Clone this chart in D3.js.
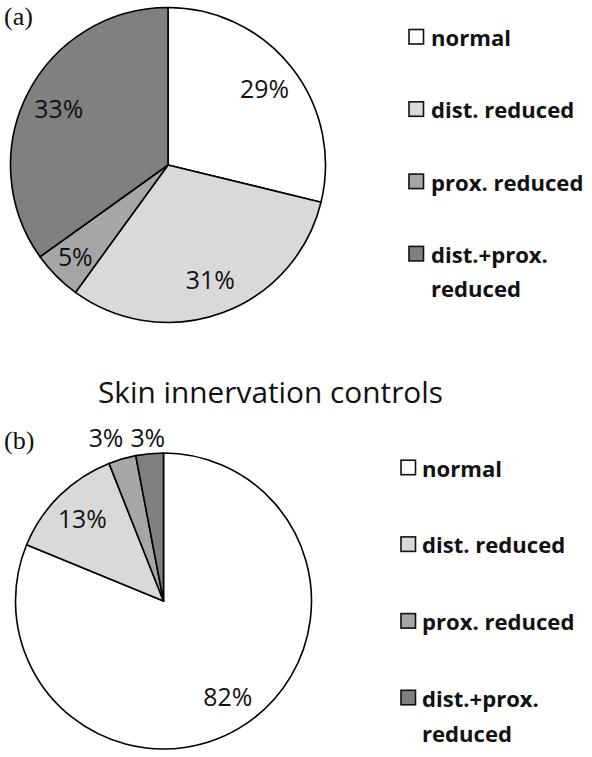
<!DOCTYPE html>
<html>
<head>
<meta charset="utf-8">
<script src="https://cdn.jsdelivr.net/npm/d3@7"></script>
<style>
  html, body { margin: 0; padding: 0; background: #ffffff; }
  svg { display: block; }
</style>
</head>
<body>
<svg id="chart" width="592" height="757"></svg>
<script>
// ---------------- data ----------------
const categories = ["normal", "dist. reduced", "prox. reduced", "dist.+prox. reduced"];
const legendLines = [["normal"], ["dist. reduced"], ["prox. reduced"], ["dist.+prox.", "reduced"]];
const sliceColors = ["#ffffff", "#d9d9d9", "#a6a6a6", "#808080"];

// (a) patients
const valuesA = [28.8, 31.2, 5.1, 34.9];
const labelsA = ["29%", "31%", "5%", "33%"];

// (b) controls
const valuesB = [81.2, 12.8, 3.0, 3.0];
const labelsB = ["82%", "13%", "3%", "3%"];

const titleB = "Skin innervation controls";
const panelTags = ["(a)", "(b)"];

// ---------------- helpers ----------------
const svg = d3.select("#chart");
const sansFont = "'Open Sans', 'Noto Sans', 'DejaVu Sans', sans-serif";
const serifFont = "'Liberation Serif', 'DejaVu Serif', serif";

function measure(text, family, weight, size) {
  const t = svg.append("text")
    .attr("font-family", family).attr("font-weight", weight)
    .attr("font-size", size).text(text);
  const w = t.node().getComputedTextLength();
  t.remove();
  return w;
}
function fitSize(text, family, weight, targetWidth) {
  return 100 * targetWidth / measure(text, family, weight, 100);
}

const pctSize = fitSize("29%", sansFont, "normal", 49);
const legSize = fitSize("normal", sansFont, "bold", 80);
const titleSize = fitSize(titleB, sansFont, "normal", 345);
const tagSize = fitSize("(a)", serifFont, "normal", 29);

function drawPie(cfg) {
  const { values, labels, cx, cy, r } = cfg;
  const total = d3.sum(values);
  const pie = d3.pie().sort(null).value(d => d);
  const arcs = pie(values);
  const arc = d3.arc().innerRadius(0).outerRadius(r);
  const g = svg.append("g").attr("transform", `translate(${cx},${cy})`);

  g.selectAll("path.slice")
    .data(arcs)
    .join("path")
    .attr("class", "slice")
    .attr("d", arc)
    .attr("fill", (d, i) => sliceColors[i])
    .attr("stroke", "#000")
    .attr("stroke-width", 1.6)
    .attr("stroke-linejoin", "round");

  // label positions
  const pos = arcs.map((d, i) => {
    const frac = d.value / total;
    let lr, outside = false;
    if (frac < 0.04) { lr = r + 19; outside = true; }
    else if (frac < 0.1) lr = r * 0.83;
    else lr = r * 0.78;
    const c = d3.arc().innerRadius(lr).outerRadius(lr).centroid(d);
    const w = measure(labels[i], sansFont, "normal", pctSize);
    return { x: c[0], y: c[1], w, outside };
  });
  // simple collision avoidance for outside labels (push leftmost away)
  const outs = pos.filter(p => p.outside).sort((a, b) => b.x - a.x);
  for (let k = 1; k < outs.length; k++) {
    const right = outs[k - 1], left = outs[k];
    const minGap = right.w / 2 + left.w / 2 + 7;
    if (Math.abs(right.y - left.y) < pctSize && right.x - left.x < minGap) {
      left.x = right.x - minGap;
      const ym = (left.y + right.y) / 2;
      left.y = ym; right.y = ym;
    }
  }

  g.selectAll("text.pct")
    .data(arcs)
    .join("text")
    .attr("class", "pct")
    .attr("font-family", sansFont)
    .attr("font-size", pctSize)
    .attr("fill", "#111")
    .attr("text-anchor", "middle")
    .attr("x", (d, i) => pos[i].x)
    .attr("y", (d, i) => pos[i].y + 0.36 * pctSize)
    .text((d, i) => labels[i]);
}

function drawLegend(cfg) {
  const { x, textX, y0, step, lineH } = cfg;
  const g = svg.append("g");
  categories.forEach((cat, i) => {
    const base = y0 + i * step;
    g.append("rect")
      .attr("x", x).attr("y", base - 16.5)
      .attr("width", 14.5).attr("height", 14.5)
      .attr("fill", sliceColors[i])
      .attr("stroke", "#111").attr("stroke-width", 1.6);
    const t = g.append("text")
      .attr("font-family", sansFont)
      .attr("font-weight", "bold")
      .attr("font-size", legSize)
      .attr("fill", "#111");
    legendLines[i].forEach((ln, j) => {
      t.append("tspan").attr("x", textX).attr("y", base + j * lineH).text(ln);
    });
  });
}

// ---------------- panel (a) ----------------
svg.append("text").attr("x", 4).attr("y", 25)
  .attr("font-family", serifFont).attr("font-size", tagSize).attr("fill", "#111")
  .text(panelTags[0]);
drawPie({ values: valuesA, labels: labelsA, cx: 168, cy: 165, r: 157.5 });
drawLegend({ x: 409, textX: 431, y0: 46, step: 72.3, lineH: 34 });

// ---------------- panel (b) ----------------
svg.append("text").attr("x", 270.5).attr("y", 403)
  .attr("text-anchor", "middle")
  .attr("font-family", sansFont).attr("font-size", titleSize).attr("fill", "#111")
  .text(titleB);
svg.append("text").attr("x", 4).attr("y", 449)
  .attr("font-family", serifFont).attr("font-size", tagSize).attr("fill", "#111")
  .text(panelTags[1]);
drawPie({ values: valuesB, labels: labelsB, cx: 163.5, cy: 601, r: 148 });
drawLegend({ x: 401, textX: 422, y0: 476.7, step: 76.7, lineH: 35 });
</script>
</body>
</html>
